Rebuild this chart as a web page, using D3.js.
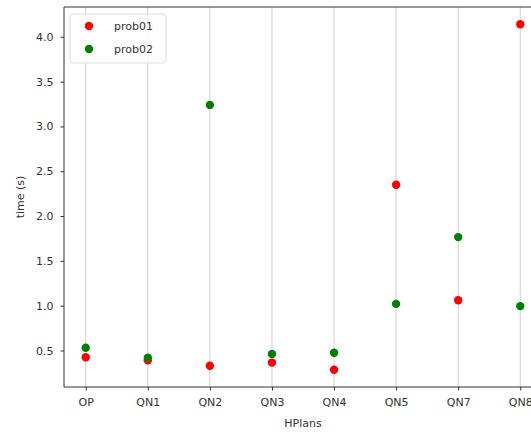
<!DOCTYPE html>
<html>
<head>
<meta charset="utf-8">
<script src="https://d3js.org/d3.v7.min.js"></script>
<style>
  body { margin: 0; background: #fff; }
  text { font-family: "DejaVu Sans", sans-serif; }
</style>
</head>
<body>
<svg width="531" height="432"></svg>
<script>
var plans = ["OP", "QN1", "QN2", "QN3", "QN4", "QN5", "QN7", "QN8"];
var prob01 = [0.425, 0.39, 0.33, 0.365, 0.285, 2.35, 1.06, 4.14];
var prob02 = [0.53, 0.42, 3.24, 0.46, 0.475, 1.02, 1.765, 0.995];
var yTicks = [0.5, 1.0, 1.5, 2.0, 2.5, 3.0, 3.5, 4.0];
var seriesNames = ["prob01", "prob02"];
var seriesColors = ["#ff0000", "#008000"];

var svg = d3.select("svg");
var padLeft = 64, padTop = 7, padBottom = 387, padRight = 542;
var fs = "11px";

// matplotlib style margins: 5% on each side
var x = d3.scaleLinear().domain([-0.35, plans.length - 1 + 0.35]).range([padLeft, padRight]);
var y = d3.scaleLinear().domain([0.0925, 4.3325]).range([padBottom, padTop]);

// vertical grid
svg.append("g").selectAll("line")
  .data(plans)
  .enter().append("line")
    .attr("x1", function(d, i) { return x(i); })
    .attr("x2", function(d, i) { return x(i); })
    .attr("y1", padTop)
    .attr("y2", padBottom)
    .attr("stroke", "#d0d0d0")
    .attr("stroke-width", 1);

// points
var series = [prob01, prob02];
series.forEach(function(vals, s) {
  svg.append("g").selectAll("circle")
    .data(vals)
    .enter().append("circle")
      .attr("cx", function(d, i) { return x(i); })
      .attr("cy", function(d) { return y(d); })
      .attr("r", 4.2)
      .attr("fill", seriesColors[s]);
});

// axes
var xAxis = d3.axisBottom(x)
  .tickValues(d3.range(plans.length))
  .tickFormat(function(i) { return plans[i]; })
  .tickSize(3.5).tickPadding(8).tickSizeOuter(0);
var gx = svg.append("g")
  .attr("transform", "translate(0," + padBottom + ")")
  .call(xAxis);

var yAxis = d3.axisLeft(y)
  .tickValues(yTicks)
  .tickFormat(d3.format(".1f"))
  .tickSize(3.5).tickPadding(7).tickSizeOuter(0);
var gy = svg.append("g")
  .attr("transform", "translate(" + padLeft + ",0)")
  .call(yAxis);

[gx, gy].forEach(function(g) {
  g.select(".domain").remove();
  g.selectAll("line").attr("stroke", "#333");
  g.selectAll("text").attr("fill", "#333").style("font-size", fs)
    .style("font-family", "DejaVu Sans, sans-serif");
});

// spines
svg.append("line").attr("x1", padLeft).attr("x2", padLeft).attr("y1", padTop).attr("y2", padBottom)
  .attr("stroke", "#333").attr("stroke-width", 1);
svg.append("line").attr("x1", padLeft).attr("x2", padRight).attr("y1", padBottom).attr("y2", padBottom)
  .attr("stroke", "#333").attr("stroke-width", 1);
svg.append("line").attr("x1", padLeft).attr("x2", padRight).attr("y1", padTop).attr("y2", padTop)
  .attr("stroke", "#333").attr("stroke-width", 1);

// axis labels
svg.append("text")
  .attr("x", x(3.5)).attr("y", 427)
  .attr("text-anchor", "middle")
  .attr("fill", "#333").style("font-size", fs)
  .text("HPlans");
svg.append("text")
  .attr("transform", "translate(24," + ((padTop + padBottom) / 2) + ") rotate(-90)")
  .attr("text-anchor", "middle")
  .attr("fill", "#333").style("font-size", fs)
  .text("time (s)");

// legend
var lg = svg.append("g").attr("transform", "translate(70,14)");
lg.append("rect")
  .attr("width", 96).attr("height", 49).attr("rx", 3)
  .attr("fill", "#fff").attr("fill-opacity", 0.8)
  .attr("stroke", "#ddd");
seriesNames.forEach(function(name, i) {
  lg.append("circle")
    .attr("cx", 19).attr("cy", 12 + i * 23)
    .attr("r", 4.2).attr("fill", seriesColors[i]);
  lg.append("text")
    .attr("x", 44).attr("y", 12 + i * 23).attr("dy", "0.35em")
    .attr("fill", "#333").style("font-size", fs)
    .text(name);
});
</script>
</body>
</html>
